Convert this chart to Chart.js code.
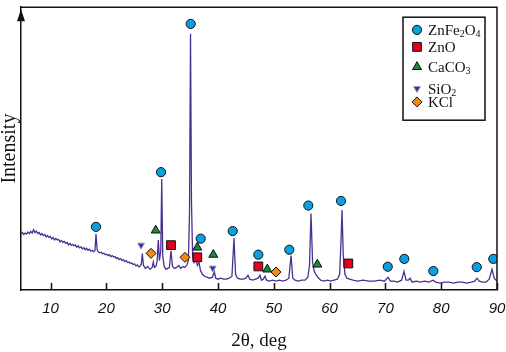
<!DOCTYPE html>
<html>
<head>
<meta charset="utf-8">
<script src="https://cdn.jsdelivr.net/npm/chart.js@4/dist/chart.umd.min.js"></script>
<style>
  html, body { margin: 0; padding: 0; background: #fff; }
  #wrap { width: 506px; height: 352px; position: relative; }
</style>
</head>
<body>
<div id="wrap"><canvas id="xrd"></canvas></div>
<script>
(function () {
    // XRD pattern: 2theta (deg) vs intensity (arbitrary units)

    var twoTheta = [
        4.7, 4.95, 5.2, 5.45, 5.7, 5.95, 6.2, 6.45, 6.7, 6.95, 7.2, 7.45, 7.7, 7.95, 8.2, 8.45,
        8.7, 8.95, 9.2, 9.45, 9.7, 9.95, 10.2, 10.45, 10.7, 10.95, 11.2, 11.45, 11.7, 11.95, 12.2, 12.45,
        12.7, 12.95, 13.2, 13.45, 13.7, 13.95, 14.2, 14.45, 14.7, 14.95, 15.2, 15.45, 15.7, 15.95, 16.2, 16.45,
        16.7, 16.95, 17.2, 17.45, 17.7, 17.95, 18.14, 18.35, 18.55, 18.8, 19.05, 19.3, 19.55, 19.8, 20.05, 20.3,
        20.55, 20.8, 21.05, 21.3, 21.55, 21.8, 22.05, 22.3, 22.55, 22.8, 23.05, 23.3, 23.55, 23.8, 24.05, 24.3,
        24.55, 24.8, 25.05, 25.3, 25.55, 25.8, 26.05, 26.25,
        26.44, 26.65, 27.0, 27.4, 27.8, 28.2, 28.41, 28.6, 28.9, 29.1, 29.31, 29.5, 29.75, 29.92, 30.1, 30.35,
        30.7, 31.0, 31.3, 31.58, 31.85, 32.2, 32.6, 33.0, 33.3, 33.7, 34.0, 34.4, 34.7, 34.9, 35.08, 35.25,
        35.45, 35.7, 35.9, 36.06, 36.3, 36.6, 36.85, 37.2, 37.6, 38.0, 38.5, 39.0, 39.34, 39.6, 40.0, 40.5,
        41.0, 41.5, 42.0, 42.5, 42.87, 43.15, 43.5, 44.0, 44.5, 45.0, 45.38, 45.7, 46.2, 46.7, 47.2, 47.53,
        47.8, 48.1, 48.43, 48.7, 49.2, 49.8, 50.4, 51.0, 51.6, 52.2, 52.7, 53.09, 53.4, 53.8, 54.4, 55.0,
        55.6, 56.1, 56.4, 56.67, 56.95, 57.2, 57.5, 57.9, 58.4, 59.0, 59.6, 60.2, 60.8, 61.4, 61.8, 62.05,
        62.23, 62.45, 62.75, 63.1, 63.6, 64.2, 65.0, 66.0, 67.0, 68.0, 69.0, 69.8, 70.47, 70.9, 71.5, 72.2,
        72.9, 73.34, 73.7, 74.1, 74.41, 74.8, 75.5, 76.3, 77.0, 77.8, 78.53, 79.0, 79.8, 80.6, 81.4, 82.2,
        83.0, 83.8, 84.6, 85.4, 86.0, 86.42, 86.8, 87.4, 88.0, 88.6, 89.11, 89.5, 90.0
    ];
    var intensity = [
        57, 58.5, 56.5, 58, 57, 59, 57.5, 59.5, 58, 61.5, 58.5, 60, 57.5, 58.5, 56, 57.5,
        55.5, 56.5, 54, 55.5, 53.5, 54.5, 52, 53.5, 51, 52.5, 51, 51.5, 49, 50.5, 48.5, 49.5,
        47.5, 48.5, 46, 47.5, 45.5, 46.5, 45, 46, 43.5, 45, 43, 44, 42, 43, 41, 42.5,
        40.5, 41.5, 39.5, 40.5, 39, 40, 57, 41, 39, 38, 38.5, 37, 37.5, 36, 36.5, 35,
        36, 34, 35, 33.5, 34, 32, 33, 31, 32, 30, 31, 29, 30, 28, 28.5, 27,
        27.5, 26, 26.5, 24.5, 25.5, 23.5, 24.5, 26,
        37, 25, 22, 24, 21, 23, 28.5, 23, 24, 30, 51, 30, 40, 113, 35, 24,
        21, 22, 23, 40, 24, 22, 23, 25, 22, 24, 23, 25, 30, 80, 261, 90,
        35, 28, 30, 32, 25, 28, 20, 16, 14, 13, 12, 13, 18.5, 12, 11, 12,
        11, 11, 12, 14, 53, 16, 12, 11, 11, 12, 15, 11, 10, 11, 12, 15,
        10, 11, 14, 10, 9, 10, 9, 10, 9, 10, 12, 35, 12, 10, 9, 10,
        10, 13, 25, 78, 28, 20, 16, 13, 10, 9, 10, 9, 10, 11, 16, 50,
        81.5, 35, 16, 12, 11, 10, 9, 10, 9, 9, 10, 9, 13, 9, 9, 8,
        10, 19, 10, 10, 12, 8, 9, 8, 9, 8, 10, 8, 7, 8, 8, 7,
        8, 8, 7, 8, 9, 12, 9, 8, 8, 11, 21, 12, 9
    ];

    // phase markers: position (2theta) and height of the symbol
    var znFe2O4Theta = [18.14, 29.79, 35.11, 36.9, 42.64, 47.23, 52.78, 56.19, 62.05, 70.42, 73.39, 78.59, 86.37, 89.34];
    var znFe2O4Y     = [64.3, 120, 271, 52.3, 60, 36, 41, 86, 90.7, 23.7, 31.7, 19.3, 23.3, 31.7];
    var znOTheta     = [31.58, 36.29, 47.23, 63.36];
    var znOY         = [45.7, 33.3, 24, 27];
    var caCO3Theta   = [28.84, 36.29, 39.16, 48.84, 57.8];
    var caCO3Y       = [60.7, 43.3, 36, 21, 26];
    var siO2Theta    = [26.21, 39.05];
    var siO2Y        = [45.7, 22.3];
    var kClTheta     = [28.0, 34.09, 50.4];
    var kClY         = [37.3, 33.3, 18.3];

    var xTicks = [10, 20, 30, 40, 50, 60, 70, 80, 90];

    // legend entries: main text pieces, subscripts marked with sub:true
    var legendLabels = [
        [{ t: 'ZnFe' }, { t: '2', sub: true }, { t: 'O' }, { t: '4', sub: true }],
        [{ t: 'ZnO' }],
        [{ t: 'CaCO' }, { t: '3', sub: true }],
        [{ t: 'SiO' }, { t: '2', sub: true }],
        [{ t: 'KCl' }]
    ];

    function pts(xs, ys) {
        return xs.map(function (x, i) { return { x: x, y: ys[i] }; });
    }

    var markerStyles = [
        { pointStyle: 'circle', radius: 4.6, rotation: 0, bg: '#0a9fe0', border: '#111', bw: 1 },
        { pointStyle: 'rect', radius: 6.2, rotation: 0, bg: '#e3001b', border: '#111', bw: 1 },
        { pointStyle: 'triangle', radius: 5.2, rotation: 0, bg: '#17893b', border: '#111', bw: 1 },
        { pointStyle: 'triangle', radius: 4, rotation: 180, bg: '#343494', border: '#9a9ac4', bw: 1 },
        { pointStyle: 'rectRot', radius: 5, rotation: 0, bg: '#f08a12', border: '#111', bw: 1 }
    ];
    var markerData = [
        pts(znFe2O4Theta, znFe2O4Y),
        pts(znOTheta, znOY),
        pts(caCO3Theta, caCO3Y),
        pts(siO2Theta, siO2Y),
        pts(kClTheta, kClY)
    ];

    var datasets = [{
        label: 'pattern',
        data: pts(twoTheta, intensity),
        showLine: true,
        borderColor: '#4b2f93',
        borderWidth: 1.3,
        pointRadius: 0,
        tension: 0,
        order: 10
    }];
    markerData.forEach(function (d, i) {
        var s = markerStyles[i];
        datasets.push({
            label: 'phase' + i,
            data: d,
            showLine: false,
            pointStyle: s.pointStyle,
            pointRadius: s.radius,
            rotation: s.rotation,
            backgroundColor: s.bg,
            borderColor: s.border,
            borderWidth: s.bw,
            order: 0
        });
    });

    var framePlugin = {
        id: 'frame',
        afterDraw: function (chart) {
            var ctx = chart.ctx;
            var a = chart.chartArea;
            var xs = chart.scales.x;
            ctx.save();
            ctx.strokeStyle = '#111';
            ctx.lineWidth = 1.5;
            // top and right border
            ctx.beginPath();
            ctx.moveTo(a.left, a.top);
            ctx.lineTo(a.right, a.top);
            ctx.lineTo(a.right, a.bottom);
            ctx.stroke();
            // tick marks pointing inward
            ctx.beginPath();
            xTicks.forEach(function (v) {
                var px = Math.round(xs.getPixelForValue(v)) + 0.5;
                ctx.moveTo(px, a.bottom);
                ctx.lineTo(px, a.bottom - 7);
            });
            ctx.stroke();
            // arrow head on the y axis
            ctx.fillStyle = '#111';
            ctx.beginPath();
            ctx.moveTo(a.left, a.top + 2);
            ctx.lineTo(a.left - 4, a.top + 14);
            ctx.lineTo(a.left + 4, a.top + 14);
            ctx.closePath();
            ctx.fill();

            // legend box
            var lx = a.right - 94, ly = a.top + 10, lw = 82, lh = 103;
            ctx.fillStyle = '#fff';
            ctx.fillRect(lx, ly, lw, lh);
            ctx.lineWidth = 1.5;
            ctx.strokeRect(lx, ly, lw, lh);
            var rows = [12.7, 29.7, 49.7, 71.3, 84.7];
            legendLabels.forEach(function (parts, i) {
                var s = markerStyles[i];
                var cy = ly + rows[i];
                ctx.fillStyle = s.bg;
                ctx.strokeStyle = s.border;
                ctx.lineWidth = s.bw;
                Chart.helpers.drawPoint(ctx, { pointStyle: s.pointStyle, radius: s.radius, rotation: s.rotation, borderWidth: s.bw }, lx + 14, cy);
                var tx = lx + 25;
                ctx.fillStyle = '#111';
                ctx.textBaseline = 'alphabetic';
                parts.forEach(function (p) {
                    if (p.sub) {
                        ctx.font = '10px "Liberation Serif", serif';
                        ctx.fillText(p.t, tx, cy + 7.5);
                    } else {
                        ctx.font = '15px "Liberation Serif", serif';
                        ctx.fillText(p.t, tx, cy + 5);
                    }
                    tx += ctx.measureText(p.t).width;
                });
            });
            ctx.restore();
        }
    };

    new Chart(document.getElementById('xrd'), {
        type: 'scatter',
        data: { datasets: datasets },
        plugins: [framePlugin],
        options: {
            responsive: true,
            maintainAspectRatio: false,
            animation: false,
            layout: { padding: { top: 2, right: 9, left: 0, bottom: 1 } },
            plugins: { legend: { display: false }, tooltip: { enabled: false } },
            scales: {
                x: {
                    type: 'linear',
                    min: 4.7,
                    max: 90,
                    afterBuildTicks: function (scale) {
                        scale.ticks = xTicks.map(function (v) { return { value: v }; });
                    },
                    afterFit: function (scale) {
                        // let the last label ("90") hang over the right edge
                        scale.paddingRight = 0;
                    },
                    grid: { display: false, drawTicks: false },
                    border: { display: true, color: '#111', width: 1.5 },
                    ticks: {
                        color: '#111',
                        padding: 10,
                        maxRotation: 0,
                        font: { family: '"Liberation Sans", Arial, sans-serif', size: 15, style: 'italic' }
                    },
                    title: {
                        display: true,
                        text: '2θ, deg',
                        color: '#111',
                        padding: { top: 4, bottom: 0 },
                        font: { family: '"Liberation Serif", serif', size: 19, lineHeight: 1 }
                    }
                },
                y: {
                    min: 0,
                    max: 288,
                    grid: { display: false, drawTicks: false },
                    border: { display: true, color: '#111', width: 1.5 },
                    ticks: { display: false },
                    title: {
                        display: true,
                        text: 'Intensity',
                        color: '#111',
                        padding: { top: 0, bottom: 1 },
                        font: { family: '"Liberation Serif", serif', size: 20, lineHeight: 1 }
                    }
                }
            }
        }
    });
})();
</script>
</body>
</html>
